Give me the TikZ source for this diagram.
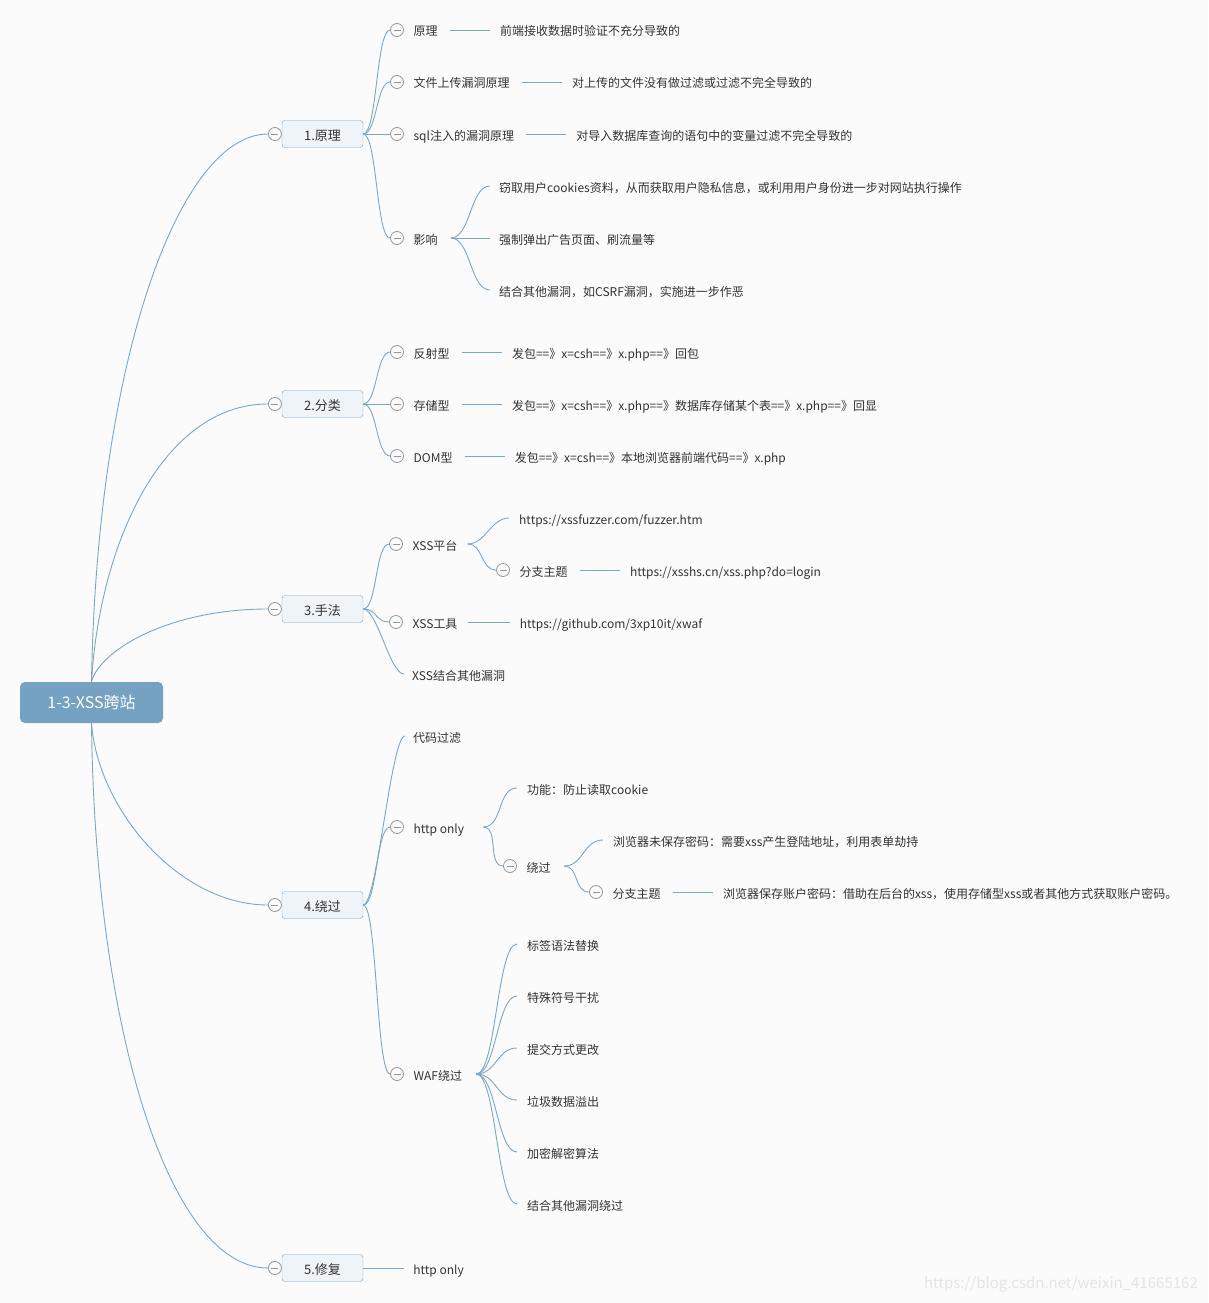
\documentclass[tikz,border=0pt]{standalone}
\usepackage{fontspec}
\setmainfont{Noto Sans CJK SC}
\usetikzlibrary{positioning}
\definecolor{paper}{RGB}{251,251,251}
\definecolor{wire}{RGB}{126,166,197}
\definecolor{rootblue}{RGB}{117,162,194}
\definecolor{topicfill}{RGB}{239,244,248}
\definecolor{foldgray}{RGB}{150,150,150}
\definecolor{ink}{RGB}{51,51,51}
\definecolor{mark}{RGB}{228,228,228}

\begin{document}
\begin{tikzpicture}[x=1pt,y=-1pt,
    link/.style={draw=wire,line width=0.9pt},
    twig/.style={to path={.. controls +(#1,0) and +(-#1,0) .. (\tikztotarget)}},
    twig/.default=14,
    rootbox/.style={fill=rootblue,rounded corners=5pt,minimum width=143pt,minimum height=41pt,text=white,font=\fontsize{16}{19}\selectfont},
    topic/.style={draw=wire,fill=topicfill,rounded corners=3pt,minimum width=81pt,minimum height=27pt,inner sep=0pt,text height=12.5pt,text depth=0pt,text=ink,font=\fontsize{13}{15}\selectfont},
    fold/.style={circle,draw=foldgray,fill=paper,line width=0.8pt,minimum size=13pt,inner sep=0pt,
      path picture={\draw[foldgray,line width=0.8pt] ([xshift=3pt]path picture bounding box.west) -- ([xshift=-3pt]path picture bounding box.east);}},
    txt/.style={anchor=west,inner sep=0pt,text height=12pt,text depth=0pt,text=ink,font=\fontsize{12}{14}\selectfont}]
  \fill[paper] (0,0) rectangle (1208,1303);
  \useasboundingbox (0,0) rectangle (1208,1303);

  % root and main topics
  \node[rootbox] (root) at (91.5,702.5) {1-3-XSS跨站};
  \node[topic] (b1) at (322.5,134) {1.原理};
  \node[topic] (b2) at (322.5,404) {2.分类};
  \node[topic] (b3) at (322.5,609) {3.手法};
  \node[topic] (b4) at (322.5,905) {4.绕过};
  \node[topic] (b5) at (322.5,1268) {5.修复};
  \foreach \i in {1,...,5} \node[fold,left=0pt of b\i] (g\i) {};
  \draw[link] (root.north) .. controls +(5.5,-322) and +(-88.5,0) .. (g1.west);
  \draw[link] (root.north) .. controls +(8.5,-142) and +(-103.5,0) .. (g2.west);
  \draw[link] (root.north) .. controls +(8.5,-32) and +(-98.5,0) .. (g3.west);
  \draw[link] (root.south) .. controls +(6.5,87) and +(-88.5,0) .. (g4.west);
  \draw[link] (root.south) .. controls +(3.5,307) and +(-98.5,0) .. (g5.west);

  % 1. principle
  \node[fold] (f11) at (397,30) {};
  \node[txt,right=9.5pt of f11] (t11) {原理};
  \node[txt,right=62pt of t11] (l11) {前端接收数据时验证不充分导致的};
  \node[fold] (f12) at (397,82) {};
  \node[txt,right=9.5pt of f12] (t12) {文件上传漏洞原理};
  \node[txt,right=62pt of t12] (l12) {对上传的文件没有做过滤或过滤不完全导致的};
  \node[fold] (f13) at (397,134) {};
  \node[txt,right=9.5pt of f13] (t13) {sql注入的漏洞原理};
  \node[txt,right=62pt of t13] (l13) {对导入数据库查询的语句中的变量过滤不完全导致的};
  \node[fold] (f14) at (397,238) {};
  \node[txt,right=9.5pt of f14] (t14) {影响};
  \node[txt] (l141) at (499,186) {窃取用户cookies资料，从而获取用户隐私信息，或利用用户身份进一步对网站执行操作};
  \node[txt] (l142) at (499,238) {强制弹出广告页面、刷流量等};
  \node[txt] (l143) at (499,290) {结合其他漏洞，如CSRF漏洞，实施进一步作恶};
  \foreach \j in {1,...,4} \draw[link] (b1.east) to[twig] (f1\j.west);
  \foreach \j in {1,2,3} \draw[link] ([xshift=12pt]t1\j.east) -- ([xshift=-10pt]l1\j.west);
  \foreach \j in {1,2,3} \draw[link] ([xshift=13pt]t14.east) to[twig=20] ([xshift=-9pt]l14\j.west);

  % 2. types
  \node[fold] (f21) at (397,352) {};
  \node[txt,right=9.5pt of f21] (t21) {反射型};
  \node[txt,right=62pt of t21] (l21) {发包==》x=csh==》x.php==》回包};
  \node[fold] (f22) at (397,404) {};
  \node[txt,right=9.5pt of f22] (t22) {存储型};
  \node[txt,right=62pt of t22] (l22) {发包==》x=csh==》x.php==》数据库存储某个表==》x.php==》回显};
  \node[fold] (f23) at (397,456) {};
  \node[txt,right=9.5pt of f23] (t23) {DOM型};
  \node[txt,right=62pt of t23] (l23) {发包==》x=csh==》本地浏览器前端代码==》x.php};
  \foreach \j in {1,2,3} {
    \draw[link] (b2.east) to[twig] (f2\j.west);
    \draw[link] ([xshift=12pt]t2\j.east) -- ([xshift=-10pt]l2\j.west);
  }

  % 3. methods
  \node[fold] (f31) at (396,544) {};
  \node[txt,right=9.5pt of f31] (t31) {XSS平台};
  \node[txt] (l311) at (519,518) {https://xssfuzzer.com/fuzzer.htm};
  \node[fold] (f311) at (503,570) {};
  \node[txt,right=9.5pt of f311] (t311) {分支主题};
  \node[txt,right=62pt of t311] (l312) {https://xsshs.cn/xss.php?do=login};
  \node[fold] (f32) at (396,622) {};
  \node[txt,right=9.5pt of f32] (t32) {XSS工具};
  \node[txt,right=62pt of t32] (l32) {https://github.com/3xp10it/xwaf};
  \node[txt] (t33) at (412,674) {XSS结合其他漏洞};
  \draw[link] (b3.east) to[twig] (f31.west);
  \draw[link] (b3.east) to[twig] (f32.west);
  \draw[link] (b3.east) to[twig] ([xshift=-8pt]t33.west);
  \draw[link] ([xshift=10pt]t31.east) to[twig=18] ([xshift=-10pt]l311.west);
  \draw[link] ([xshift=10pt]t31.east) to[twig=16] (f311.west);
  \draw[link] ([xshift=12pt]t311.east) -- ([xshift=-10pt]l312.west);
  \draw[link] ([xshift=10pt]t32.east) -- ([xshift=-10pt]l32.west);

  % 4. bypass
  \node[txt] (t41) at (413,736) {代码过滤};
  \node[fold] (f42) at (397,827) {};
  \node[txt,right=9.5pt of f42] (t42) {http only};
  \node[txt] (l421) at (527,788) {功能：防止读取cookie};
  \node[fold] (f421) at (510,866) {};
  \node[txt,right=9.5pt of f421] (t421) {绕过};
  \node[txt] (l4211) at (613,840) {浏览器未保存密码：需要xss产生登陆地址，利用表单劫持};
  \node[fold] (f4212) at (596,892) {};
  \node[txt,right=9.5pt of f4212] (t4212) {分支主题};
  \node[txt,right=62pt of t4212] (l4212) {浏览器保存账户密码：借助在后台的xss，使用存储型xss或者其他方式获取账户密码。};
  \node[fold] (f43) at (397,1074) {};
  \node[txt,right=9.5pt of f43] (t43) {WAF绕过};
  \foreach \k/\y/\s in {1/944/标签语法替换,2/996/特殊符号干扰,3/1048/提交方式更改,4/1100/垃圾数据溢出,5/1152/加密解密算法,6/1204/结合其他漏洞绕过}
    \node[txt] (l43\k) at (527,\y) {\s};
  \draw[link] (b4.east) to[twig] ([xshift=-8pt]t41.west);
  \draw[link] (b4.east) to[twig] (f42.west);
  \draw[link] (b4.east) to[twig] (f43.west);
  \draw[link] ([xshift=19pt]t42.east) to[twig=20] ([xshift=-10pt]l421.west);
  \draw[link] ([xshift=19pt]t42.east) to[twig=16] (f421.west);
  \draw[link] ([xshift=13pt]t421.east) to[twig=20] ([xshift=-10pt]l4211.west);
  \draw[link] ([xshift=13pt]t421.east) to[twig=16] (f4212.west);
  \draw[link] ([xshift=12pt]t4212.east) -- ([xshift=-10pt]l4212.west);
  \foreach \k in {1,...,6} \draw[link] ([xshift=14pt]t43.east) to[twig=20] ([xshift=-10pt]l43\k.west);

  % 5. fix
  \node[txt,right=50pt of b5] (t51) {http only};
  \draw[link] (b5.east) -- ([xshift=-9pt]t51.west);

  \node[anchor=east,inner sep=0pt,text=mark,font=\fontsize{15}{18}\selectfont] (wm) at (1198,1284) {https://blog.csdn.net/weixin\_41665162};
\end{tikzpicture}
\end{document}
